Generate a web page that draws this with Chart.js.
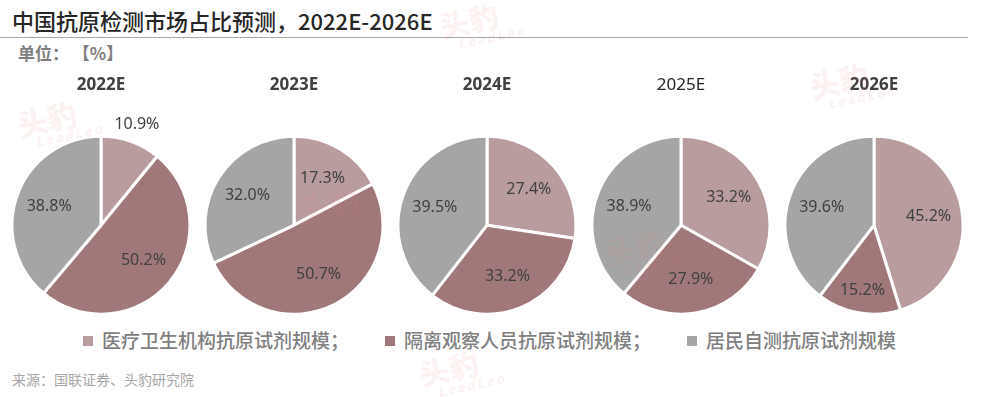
<!DOCTYPE html>
<html>
<head>
<meta charset="utf-8">
<script src="https://cdn.jsdelivr.net/npm/chart.js@4.4.1/dist/chart.umd.min.js"></script>
<style>
  html, body { margin: 0; padding: 0; background: #fff; }
  body { width: 990px; height: 397px; position: relative; overflow: hidden;
         font-family: "Noto Sans CJK SC", "Noto Sans", sans-serif; }
  .title { position: absolute; left: 12px; top: 4px; font-size: 22px; font-weight: 500; color: #262626; }
  .rule { position: absolute; left: 0; top: 37px; width: 968px; height: 1px; background: #a6a6a6; }
  .unit { position: absolute; left: 18px; top: 40px; font-size: 17px; font-weight: 700; color: #7f7f7f; }
  .pie { position: absolute; top: 65px; width: 194px; height: 260px; }
  .legend { position: absolute; top: 326px; left: 0; width: 990px; height: 28px;
            font-size: 19px; font-weight: 500; color: #7f7f7f; }
  .legend span.item { position: absolute; top: 0; white-space: nowrap; }
  .legend i { display: inline-block; width: 10px; height: 10px; margin-right: 9px; vertical-align: 2px; }
  .source { position: absolute; left: 12px; top: 369px; font-size: 14px; color: #a6a6a6; }
  .wm { position: absolute; color: rgba(225, 120, 120, 0.10); font-weight: 900; pointer-events: none;
        transform: rotate(-12deg); line-height: 1; }
  .wm b { display: block; font-size: 30px; }
  .wm em { display: block; font-size: 13px; font-style: italic; letter-spacing: 2px; margin-left: 14px; }
</style>
</head>
<body>
<div class="title">中国抗原检测市场占比预测，2022E-2026E</div>
<div class="rule"></div>
<div class="unit">单位：&nbsp;【%】</div>
<div id="pies"></div>
<div class="legend" id="legend"></div>
<div class="source">来源：国联证券、头豹研究院</div>

<script>
// Data
const years = ['2022E', '2023E', '2024E', '2025E', '2026E'];
const categories = ['医疗卫生机构抗原试剂规模', '隔离观察人员抗原试剂规模', '居民自测抗原试剂规模'];
const medical = [10.9, 17.3, 27.4, 33.2, 45.2];
const isolation = [50.2, 50.7, 33.2, 27.9, 15.2];
const resident = [38.8, 32.0, 39.5, 38.9, 39.6];

const colors = ['#b99c9e', '#a07879', '#a5a5a5'];
const pieCenters = [101, 294, 487, 681, 874];

// Percentage labels drawn on each slice
const sliceLabels = {
  id: 'sliceLabels',
  afterDatasetsDraw(chart) {
    const ctx = chart.ctx;
    const meta = chart.getDatasetMeta(0);
    const data = chart.data.datasets[0].data;
    const total = data.reduce((a, b) => a + b, 0);
    ctx.save();
    ctx.font = '16px "Noto Sans", "DejaVu Sans", sans-serif';
    ctx.fillStyle = '#404040';
    ctx.textAlign = 'center';
    ctx.textBaseline = 'middle';
    meta.data.forEach((arc, i) => {
      const frac = data[i] / total;
      const mid = (arc.startAngle + arc.endAngle) / 2;
      let k = 0.62;
      if (frac < 0.12) k = 1.2;
      else if (frac < 0.16) k = 0.74;
      const r = arc.outerRadius * k;
      const x = arc.x + Math.cos(mid) * r;
      const y = arc.y + Math.sin(mid) * r;
      ctx.fillText(data[i].toFixed(1) + '%', x, y);
    });
    ctx.restore();
  }
};

function renderPie(idx) {
  const canvas = document.createElement('canvas');
  canvas.className = 'pie';
  canvas.width = 194;
  canvas.height = 260;
  canvas.style.left = (pieCenters[idx] - 97) + 'px';
  document.getElementById('pies').appendChild(canvas);

  const plain = years[idx] === '2025E';
  new Chart(canvas, {
    type: 'pie',
    data: {
      labels: categories,
      datasets: [{
        data: [medical[idx], isolation[idx], resident[idx]],
        backgroundColor: colors,
        borderColor: '#ffffff',
        borderWidth: 3,
        radius: 89
      }]
    },
    options: {
      responsive: false,
      animation: false,
      layout: { padding: { bottom: 10 } },
      plugins: {
        legend: { display: false },
        tooltip: { enabled: false },
        title: {
          display: true,
          text: years[idx],
          color: plain ? '#262626' : '#404040',
          font: {
            family: '"Noto Sans", sans-serif',
            size: 17,
            weight: plain ? 'normal' : 'bold'
          },
          padding: { top: 10, bottom: 40 }
        }
      }
    },
    plugins: [sliceLabels]
  });
}

years.forEach((y, i) => renderPie(i));

// Legend
const legendEl = document.getElementById('legend');
const legendX = [83, 385, 687];
categories.forEach((c, i) => {
  const span = document.createElement('span');
  span.className = 'item';
  span.style.left = legendX[i] + 'px';
  span.innerHTML = `<i style="background:${colors[i]}"></i>${c}${i < categories.length - 1 ? '；' : ''}`;
  legendEl.appendChild(span);
});

// Watermarks
[[18, 100], [300, 185], [440, 2], [606, 228], [810, 62], [420, 350]].forEach(([x, y]) => {
  const d = document.createElement('div');
  d.className = 'wm';
  d.style.left = x + 'px';
  d.style.top = y + 'px';
  d.innerHTML = '<b>头豹</b><em>LeadLeo</em>';
  document.body.appendChild(d);
});
</script>
</body>
</html>
